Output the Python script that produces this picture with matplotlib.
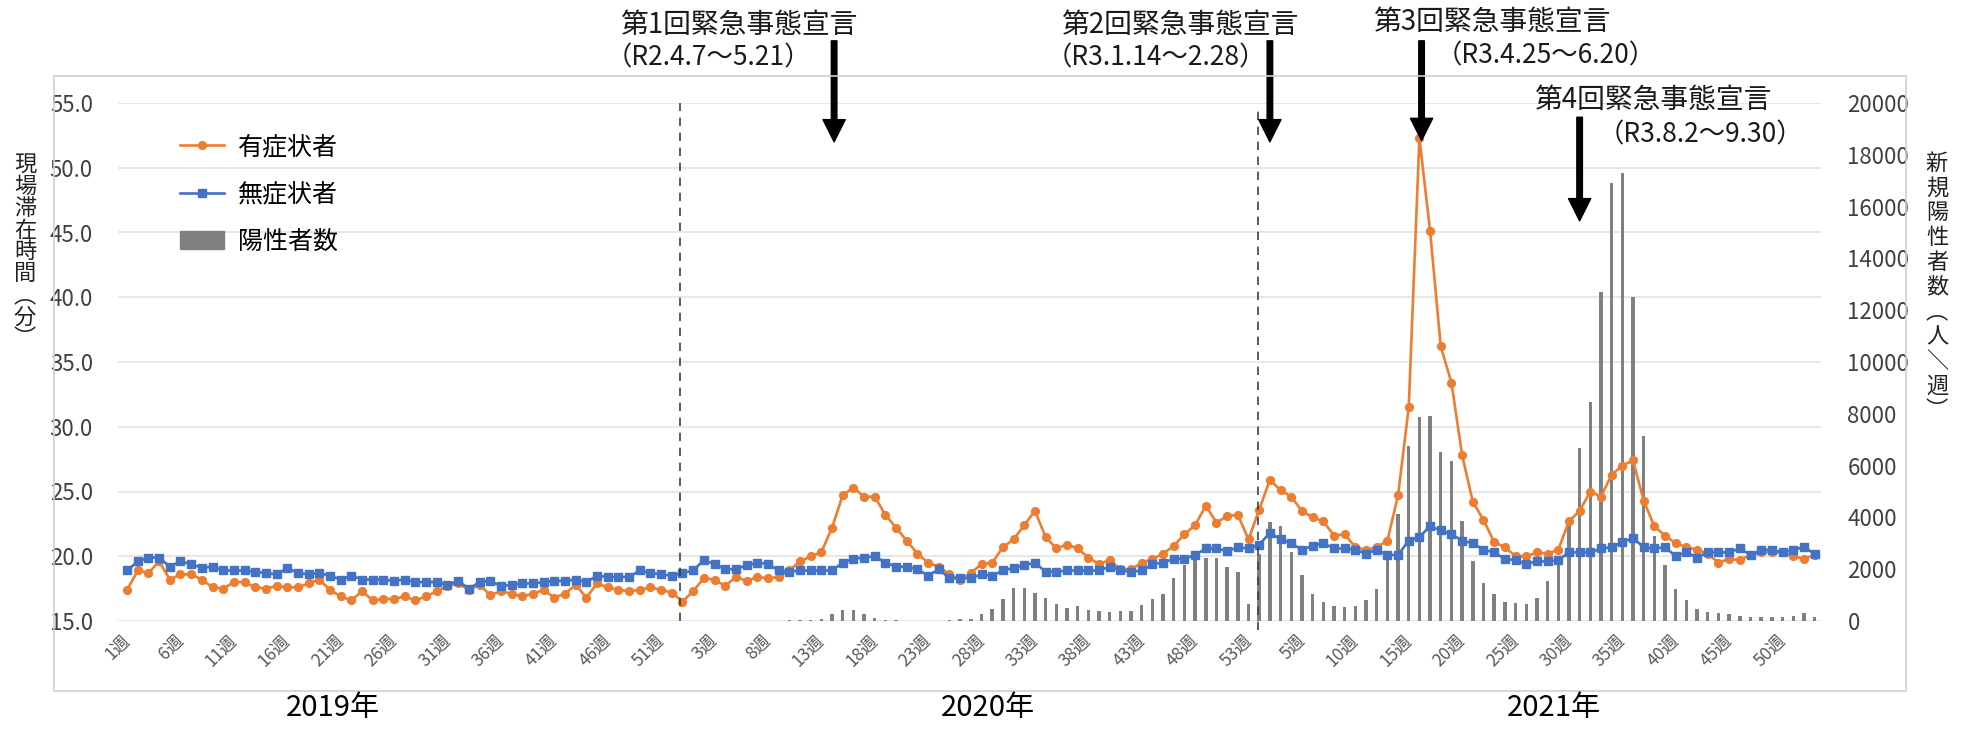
import numpy as np
import matplotlib.pyplot as plt
from matplotlib.patches import Rectangle
from matplotlib.ticker import MultipleLocator, FuncFormatter

plt.rcParams['font.family'] = ['Noto Sans CJK JP', 'DejaVu Sans']

# ------------------------------------------------------------
# Data (weekly)
# ------------------------------------------------------------
years = ["2019年", "2020年", "2021年"]

# 有症状者 (minutes on scene)
sym_2019 = [17.4, 18.9, 18.7, 19.6, 18.2, 18.6, 18.6, 18.2, 17.6, 17.5,
            18.0, 18.0, 17.6, 17.5, 17.7, 17.6, 17.6, 17.9, 18.2, 17.4,
            16.9, 16.6, 17.3, 16.6, 16.7, 16.7, 16.9, 16.6, 16.9, 17.3,
            17.7, 17.9, 17.4, 17.8, 17.0, 17.3, 17.1, 16.9, 17.1, 17.4,
            16.8, 17.1, 17.8, 16.8, 17.9, 17.6, 17.4, 17.3, 17.4, 17.6,
            17.4, 17.2, 16.5]
sym_2020 = [17.3, 18.3, 18.2, 17.7, 18.4, 18.1, 18.4, 18.3, 18.4, 18.9,
            19.6, 20.0, 20.3, 22.2, 24.7, 25.3, 24.6, 24.6, 23.2, 22.2,
            21.2, 20.2, 19.5, 19.2, 18.6, 18.2, 18.7, 19.4, 19.5, 20.7,
            21.3, 22.4, 23.5, 21.5, 20.6, 20.9, 20.6, 19.9, 19.4, 19.7,
            19.0, 19.0, 19.5, 19.8, 20.2, 20.8, 21.7, 22.4, 23.9, 22.6,
            23.1, 23.2, 21.3]
sym_2021 = [23.6, 25.9, 25.1, 24.6, 23.5, 23.0, 22.7, 21.6, 21.7, 20.7,
            20.5, 20.7, 21.2, 24.7, 31.5, 52.3, 45.1, 36.2, 33.4, 27.8,
            24.2, 22.8, 21.1, 20.7, 20.0, 20.0, 20.3, 20.2, 20.5, 22.7,
            23.5, 25.0, 24.6, 26.3, 27.0, 27.4, 24.3, 22.3, 21.6, 21.0,
            20.7, 20.5, 20.2, 19.5, 19.8, 19.7, 20.1, 20.3, 20.3, 20.3,
            20.0, 19.8, 20.1]

# 無症状者
asym_2019 = [18.9, 19.6, 19.9, 19.9, 19.2, 19.6, 19.4, 19.1, 19.2, 18.9,
             18.9, 18.9, 18.8, 18.7, 18.6, 19.1, 18.7, 18.6, 18.7, 18.5,
             18.2, 18.5, 18.2, 18.2, 18.2, 18.1, 18.2, 18.0, 18.0, 18.0,
             17.8, 18.1, 17.5, 18.0, 18.1, 17.7, 17.8, 17.9, 17.9, 18.0,
             18.1, 18.1, 18.2, 18.0, 18.5, 18.4, 18.4, 18.4, 18.9, 18.7,
             18.6, 18.5, 18.7]
asym_2020 = [18.9, 19.7, 19.4, 19.0, 19.0, 19.3, 19.5, 19.4, 18.9, 18.8,
             18.9, 18.9, 18.9, 18.9, 19.5, 19.8, 19.9, 20.0, 19.5, 19.2,
             19.2, 19.0, 18.5, 19.0, 18.3, 18.3, 18.3, 18.6, 18.5, 18.9,
             19.1, 19.3, 19.5, 18.8, 18.8, 18.9, 18.9, 18.9, 18.9, 19.2,
             18.9, 18.8, 18.9, 19.4, 19.5, 19.8, 19.8, 20.1, 20.6, 20.6,
             20.4, 20.7, 20.6]
asym_2021 = [20.9, 21.8, 21.3, 21.0, 20.5, 20.8, 21.0, 20.6, 20.6, 20.5,
             20.2, 20.5, 20.1, 20.1, 21.2, 21.5, 22.3, 22.0, 21.7, 21.2,
             21.0, 20.5, 20.3, 19.8, 19.7, 19.4, 19.6, 19.6, 19.7, 20.3,
             20.3, 20.3, 20.6, 20.7, 21.1, 21.4, 20.7, 20.6, 20.7, 20.0,
             20.3, 19.9, 20.3, 20.3, 20.3, 20.6, 20.1, 20.5, 20.5, 20.3,
             20.5, 20.7, 20.2]

# 陽性者数 (persons / week), none in 2019
pos_2020 = [0, 0, 0, 0, 0, 0, 2, 5, 10, 30,
            40, 50, 90, 280, 410, 440, 280, 120, 50, 20,
            10, 5, 10, 10, 30, 60, 90, 280, 470, 860,
            1280, 1270, 1080, 900, 670, 510, 560, 440, 380, 350,
            380, 380, 600, 860, 1030, 1670, 2180, 2400, 2440, 2440,
            2100, 1880, 640]
pos_2021 = [2590, 3810, 3680, 2670, 1770, 1060, 740, 580, 550, 580,
            810, 1220, 2600, 4140, 6770, 7860, 7900, 6510, 6170, 3850,
            2310, 1470, 1060, 740, 680, 650, 870, 1540, 2350, 3950,
            6670, 8440, 12700, 16920, 17300, 12510, 7150, 3300, 2150, 1230,
            810, 450, 360, 320, 270, 190, 170, 170, 140, 170,
            200, 300, 170]

n19, n20, n21 = len(sym_2019), len(sym_2020), len(sym_2021)
week_nums = list(range(1, n19 + 1)) + list(range(1, n20 + 1)) + list(range(1, n21 + 1))
x = np.arange(len(week_nums))
sym = np.array(sym_2019 + sym_2020 + sym_2021)
asym = np.array(asym_2019 + asym_2020 + asym_2021)
x_pos = x[n19:]
pos = np.array(pos_2020 + pos_2021)

tick_idx = x[::5]
tick_lab = [f"{week_nums[i]}週" for i in tick_idx]

# ------------------------------------------------------------
# Figure
# ------------------------------------------------------------
W, H = 1973, 729
fig = plt.figure(figsize=(W / 100, H / 100), dpi=100)

def fx(px):
    return px / W

def fy(py):
    return 1 - py / H

ORANGE = "#ED7D31"
BLUE = "#4472C4"
GRAY = "#808080"
TXT = "#404040"

# chart border
fig.add_artist(Rectangle((fx(54), fy(691)), fx(1906) - fx(54), fy(76) - fy(691),
                         transform=fig.transFigure, fill=False,
                         edgecolor="#d0d0d0", lw=1.2))

ax_bar = fig.add_axes([fx(118), fy(621), fx(1821) - fx(118), fy(103) - fy(621)])
ax_line = ax_bar.twinx()

# ---- bars (right axis) ----
ax_bar.bar(x_pos, pos, width=0.32, color=GRAY, zorder=2)
ax_bar.set_ylim(0, 20000)
ax_bar.yaxis.set_ticks_position("right")
ax_bar.yaxis.set_major_locator(MultipleLocator(2000))
ax_bar.yaxis.set_minor_locator(MultipleLocator(2500))
ax_bar.yaxis.remove_overlapping_locs = False
ax_bar.grid(True, which="minor", axis="y", color="#e3e3e3", lw=1.2, zorder=0)
ax_bar.set_axisbelow(True)
ax_bar.tick_params(axis="y", which="both", length=0, labelsize=16,
                   labelcolor=TXT, pad=19)

# ---- lines (left axis) ----
ax_line.plot(x, sym, color=ORANGE, marker="o", ms=5.6, lw=1.9, label="有症状者")
ax_line.plot(x, asym, color=BLUE, marker="s", ms=5.4, lw=1.9, label="無症状者")
ax_line.set_ylim(15, 55)
ax_line.yaxis.set_ticks_position("left")
ax_line.yaxis.set_major_locator(MultipleLocator(5))
ax_line.yaxis.set_major_formatter(FuncFormatter(lambda v, _: f"{v:.1f}"))
ax_line.tick_params(axis="y", length=0, labelsize=16, labelcolor=TXT, pad=18)

ax_bar.set_xlim(-0.85, 158.6)
ax_bar.set_xticks(tick_idx)
ax_bar.set_xticklabels(tick_lab, rotation=45, ha="right", va="center",
                       rotation_mode="anchor", fontsize=12.5, color="#595959")
ax_bar.tick_params(axis="x", length=0, pad=12)

for a in (ax_bar, ax_line):
    for s in a.spines.values():
        s.set_visible(False)

# legend
h1, l1 = ax_line.get_legend_handles_labels()
bar_handle = plt.Rectangle((0, 0), 1, 1, color=GRAY)
ax_line.legend(h1 + [bar_handle], l1 + ["陽性者数"], loc="upper left",
               bbox_to_anchor=(fx(180), fy(134)), bbox_transform=fig.transFigure,
               frameon=False, fontsize=18, handlelength=1.75, handletextpad=0.55,
               labelspacing=0.85, borderpad=0, borderaxespad=0)

# dashed year separators
ax_line.plot([51.8, 51.8], [15, 55], ls=(0, (5, 4)), color="#404040", lw=1.2, clip_on=False)
ax_line.plot([105.9, 105.9], [14.3, 54.6], ls=(0, (5, 4)), color="#404040", lw=1.2, clip_on=False)

# arrows for declarations
arrow_kw = dict(facecolor="black", edgecolor="black", width=4, headwidth=16,
                headlength=16, shrink=0)
for xa, y_top, y_tip in [(66.2, 59.8, 52.0), (107.0, 59.8, 52.0),
                         (121.2, 59.8, 52.1), (136.0, 53.9, 45.9)]:
    ax_line.annotate("", xy=(xa, y_tip), xytext=(xa, y_top),
                     arrowprops=arrow_kw, annotation_clip=False)

# declaration texts
decl = [
    ("第1回緊急事態宣言", 620, 25, "（R2.4.7～5.21）", 606, 58),
    ("第2回緊急事態宣言", 1061, 25, "（R3.1.14～2.28）", 1046, 58),
    ("第3回緊急事態宣言", 1373, 22, "（R3.4.25～6.20）", 1436, 56),
    ("第4回緊急事態宣言", 1534, 100, "（R3.8.2～9.30）", 1598, 135),
]
for t1, x1, y1, t2, x2, y2 in decl:
    fig.text(fx(x1), fy(y1), t1, ha="left", va="center", fontsize=20, color="#1a1a1a")
    fig.text(fx(x2), fy(y2), t2, ha="left", va="center", fontsize=19, color="#1a1a1a")

# year labels
for lab, xp in zip(years, [333, 988, 1554]):
    fig.text(fx(xp), fy(708), lab, ha="center", va="center", fontsize=21, color="black")

# vertical axis titles (upright stacked characters)
left_title = "現場滞在時間︵分︶"
right_title = "新規陽性者数︵人＼週︶"
fig.text(fx(25), fy(252), "\n".join(left_title), ha="center", va="center",
         fontsize=16, linespacing=0.93, color="#222222")
fig.text(fx(1937), fy(287), "\n".join(right_title), ha="center", va="center",
         fontsize=16, linespacing=1.1, color="#222222")

fig.savefig("out.png", dpi=100)
